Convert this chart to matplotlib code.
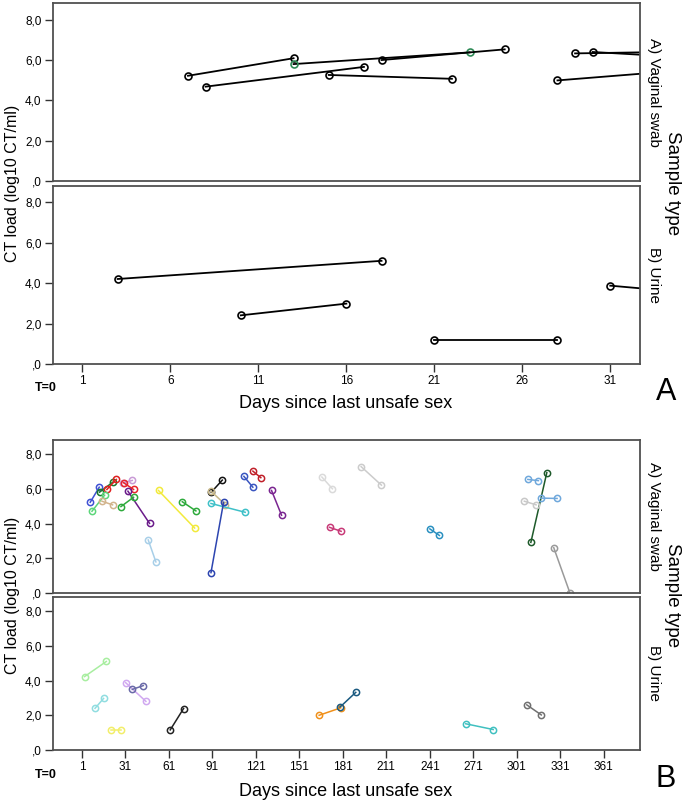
import matplotlib
matplotlib.use("Agg")
import matplotlib.pyplot as plt

W, H = 684, 801

# ---- panel A: first month, black lines ----
a_vag_days = [[7, 13], [8, 17], [13, 23], [18, 25], [15, 22], [28, 40], [29, 45], [30, 38]]
a_vag_load = [[5.22, 6.09], [4.68, 5.66], [5.80, 6.38], [6.00, 6.53], [5.26, 5.07],
              [4.99, 5.83], [6.33, 6.55], [6.40, 6.00]]
a_vag_mark = ["black", "black", "#2e8b57", "black", "black", "black", "black", "black"]

a_uri_days = [[3, 18], [10, 16], [21, 28], [31, 38]]
a_uri_load = [[4.21, 5.11], [2.41, 2.99], [1.17, 1.17], [3.88, 3.34]]

# ---- panel B: whole year, one colour per patient ----
b_vag_days = [[6.7, 12.9], [13.1, 22.4], [18.2, 24.7], [7.9, 16.6], [14.8, 22.1],
              [29.3, 35.7], [29.7, 36.6], [32.7, 47.6], [27.9, 36.6], [53.8, 78.7],
              [70.2, 79.6], [90.2, 97.8], [90.0, 99.8], [90.0, 113.6], [90.0, 98.7],
              [118.9, 124.4], [112.7, 118.9], [131.8, 138.7], [46.7, 52.0],
              [166.5, 173.8], [193.6, 207.6], [171.8, 179.8], [241.0, 247.6],
              [310.7, 321.7], [326.5, 337.6], [308.6, 315.9], [317.6, 328.8], [306.2, 314.3]]
b_vag_load = [[5.23, 6.10], [5.81, 6.40], [5.97, 6.55], [4.71, 5.64], [5.29, 5.08],
              [6.36, 6.49], [6.36, 5.97], [5.87, 4.01], [4.98, 5.52], [5.91, 3.74],
              [5.26, 4.73], [5.81, 6.51], [5.87, 5.10], [5.16, 4.65], [1.16, 5.23],
              [7.03, 6.65], [6.73, 6.10], [5.91, 4.48], [3.05, 1.78],
              [6.69, 6.01], [7.29, 6.22], [3.78, 3.55], [3.69, 3.31],
              [2.91, 6.94], [2.60, 0.0], [6.55, 6.48], [5.47, 5.45], [5.29, 5.08]]
b_vag_colors = ["#3f51d4", "#1a7a2e", "#e02020", "#5cd67a", "#d2b48c",
                "#c99ad6", "#e8242c", "#6a1b8a", "#2eaa3c", "#f2ea3c",
                "#2eaa3c", "#111111", "#c8b88a", "#3ec0c8", "#2d45b0",
                "#c0202a", "#3a55c0", "#7a2590", "#a8cfe8",
                "#dadada", "#cccccc", "#c83a78", "#2a90c0",
                "#1e5a2a", "#9a9a9a", "#6fa8dc", "#6fa8dc", "#c8c8c8"]

b_uri_days = [[2.8, 17.8], [10.0, 15.9], [20.7, 27.9], [31.1, 45.1], [35.7, 43.3],
              [61.9, 71.1], [164.6, 179.6], [179.0, 189.9], [265.8, 284.7], [307.9, 317.9]]
b_uri_load = [[4.23, 5.10], [2.40, 2.97], [1.16, 1.16], [3.88, 2.80], [3.49, 3.71],
              [1.16, 2.39], [2.00, 2.43], [2.47, 3.32], [1.51, 1.18], [2.60, 2.02]]
b_uri_colors = ["#a8eea0", "#90dde0", "#f2ee6a", "#d0a8f0", "#6a6aa8",
                "#222222", "#f0901a", "#1a5a80", "#40c0c0", "#707070"]

y_ticks = [0, 2, 4, 6, 8]
y_labels = [",0", "2,0", "4,0", "6,0", "8,0"]
a_x_ticks = [1, 6, 11, 16, 21, 26, 31]
b_x_ticks = list(range(1, 362, 30))

tick_font = ["Liberation Sans Narrow", "Liberation Sans", "DejaVu Sans"]
text_font = ["Liberation Sans", "DejaVu Sans"]
frame_col = "#505050"


def box(top, bottom):
    left, right = 52.7, 640
    return [left / W, 1 - bottom / H, (right - left) / W, (bottom - top) / H]


def style(ax, xlim, xticks, bottom_axis):
    ax.set_xlim(*xlim)
    ax.set_ylim(0, 8.83)
    for s in ax.spines.values():
        s.set_color(frame_col)
        s.set_linewidth(1.3)
    ax.set_yticks(y_ticks)
    ax.set_yticklabels(y_labels, fontfamily=tick_font, fontsize=8.5)
    ax.set_xticks(xticks)
    ax.set_xticklabels([str(t) for t in xticks], fontfamily=tick_font, fontsize=8.5)
    ax.tick_params(direction="out", length=6, width=1, color="#333333", pad=2)
    ax.tick_params(axis="x", bottom=bottom_axis, labelbottom=bottom_axis)


fig = plt.figure(figsize=(W / 100, H / 100), dpi=100)

# panel A
ax = fig.add_axes(box(3, 181))
for d, v, m in zip(a_vag_days, a_vag_load, a_vag_mark):
    ax.plot(d, v, "-", color="black", lw=1.3, marker="o", ms=5, mfc="none", mec=m, mew=1.2)
style(ax, (-0.69, 32.69), a_x_ticks, False)

ax = fig.add_axes(box(185.7, 364))
for d, v in zip(a_uri_days, a_uri_load):
    ax.plot(d, v, "-", color="black", lw=1.3, marker="o", ms=5, mfc="none", mec="black", mew=1.2)
style(ax, (-0.69, 32.69), a_x_ticks, True)

# panel B
ax = fig.add_axes(box(440, 592.7))
for d, v, c in zip(b_vag_days, b_vag_load, b_vag_colors):
    ax.plot(d, v, "-", color=c, lw=1.1, marker="o", ms=4.5, mfc="none", mec=c, mew=1.1)
style(ax, (-19.2, 386), b_x_ticks, False)

ax = fig.add_axes(box(596.7, 750))
for d, v, c in zip(b_uri_days, b_uri_load, b_uri_colors):
    ax.plot(d, v, "-", color=c, lw=1.1, marker="o", ms=4.5, mfc="none", mec=c, mew=1.1)
style(ax, (-19.2, 386), b_x_ticks, True)


def px(x, y):
    return x / W, 1 - y / H


for ycen, (t1, b1), (t2, b2), tlab, xlab, letter in [
        (183, (3, 181), (185.7, 364), 388, 404, "A"),
        (595, (440, 592.7), (596.7, 750), 775, 791, "B")]:
    fig.text(*px(13, ycen), "CT load (log10 CT/ml)", rotation=90, ha="center", va="center",
             fontfamily=text_font, fontsize=11.5)
    fig.text(*px(673, ycen), "Sample type", rotation=270, ha="center", va="center",
             fontfamily=text_font, fontsize=13.5)
    fig.text(*px(654, (t1 + b1) / 2), "A) Vaginal swab", rotation=270, ha="center",
             va="center", fontfamily=text_font, fontsize=11)
    fig.text(*px(654, (t2 + b2) / 2), "B) Urine", rotation=270, ha="center",
             va="center", fontfamily=text_font, fontsize=11)
    fig.text(*px(46, tlab), "T=0", ha="center", va="center", fontfamily=tick_font,
             fontsize=9, fontweight="bold")
    fig.text(*px(346, xlab), "Days since last unsafe sex", ha="center", va="center",
             fontfamily=text_font, fontsize=13)
    fig.text(*px(666, xlab - 12), letter, ha="center", va="center",
             fontfamily=text_font, fontsize=22)

fig.savefig("out.png", dpi=100)
